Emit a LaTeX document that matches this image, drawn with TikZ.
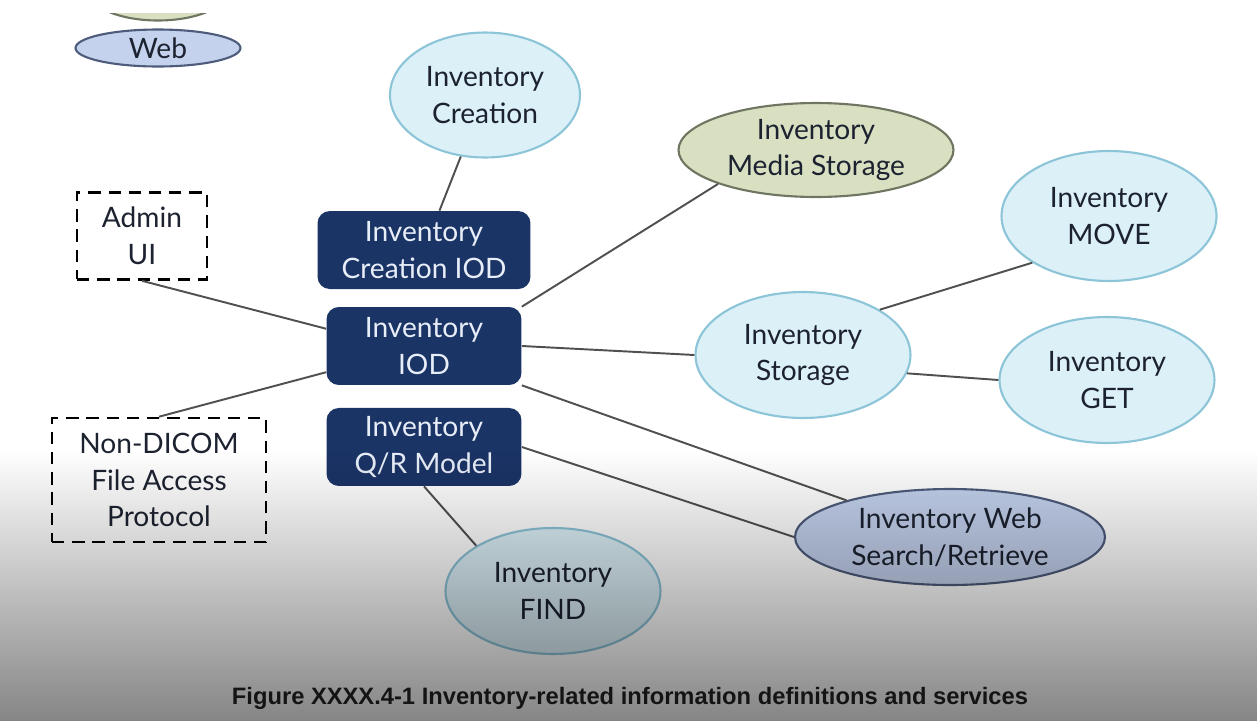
\documentclass[tikz,border=0pt]{standalone}
\usepackage{fontspec}
\setmainfont{Lato}
\newfontfamily\capfont{Liberation Sans}
\usetikzlibrary{shapes.geometric,fadings}

\definecolor{navybox}{HTML}{1B3466}
\definecolor{navytext}{HTML}{E8EEF8}
\definecolor{paleblue}{HTML}{DCF0F8}
\definecolor{paleborder}{HTML}{8CC4D8}
\definecolor{olivefill}{HTML}{D9E0C2}
\definecolor{oliveborder}{HTML}{6E7560}
\definecolor{lavfill}{HTML}{C4D2EE}
\definecolor{lavborder}{HTML}{4E5C7C}
\definecolor{inktext}{HTML}{1C2230}
\definecolor{linegray}{HTML}{505050}

\tikzfading[name=vidfade, top color=transparent!100, middle color=transparent!70, bottom color=transparent!0]

\begin{document}
\begin{tikzpicture}[x=0.02cm, y=-0.02cm,
	every node/.style={font=\fontsize{16}{21}\selectfont, align=center, text=inktext, inner sep=0pt},
	service/.style={ellipse, draw=paleborder, fill=paleblue, line width=1.2pt},
	iodbox/.style={rectangle, rounded corners=7pt, fill=navybox, text=navytext, minimum width=3.9cm, minimum height=1.56cm},
	extbox/.style={rectangle, draw=black, dash pattern=on 7pt off 4.5pt, line width=1.5pt},
	every edge/.style={draw=linegray, line width=1.1pt}]

	\useasboundingbox (0,0) rectangle (1259,721);
	\fill[white] (0,0) rectangle (1259,721);

	% cut off at the top
	\begin{scope}
		\clip (0,13) rectangle (1259,721);
		\node[service, draw=oliveborder, fill=olivefill, minimum width=2.9cm, minimum height=1.3cm] (topcut) at (158,-12) {};
	\end{scope}
	\node[service, draw=lavborder, fill=lavfill, minimum width=3.3cm, minimum height=0.74cm] (web) at (158,48) {Web};

	\node[iodbox]										(iod)			at (424,346)	{Inventory\\IOD};
	\node[iodbox, above of=iod, node distance=1.92cm, minimum width=4.26cm]	(creationiod)	{Inventory\\Creation IOD};
	\node[iodbox, below of=iod, node distance=2.02cm]	(qr)			{Inventory\\Q/R Model};

	\node[extbox, minimum width=2.6cm, minimum height=1.74cm]	(admin)		at (142,236)	{Admin\\UI};
	\node[extbox, minimum width=4.28cm, minimum height=2.48cm]	(nondicom)	at (159,480)	{Non-DICOM\\File Access\\Protocol};

	\node[service, minimum width=3.8cm, minimum height=2.5cm]	(creation)	at (485,95)		{Inventory\\Creation};
	\node[service, draw=oliveborder, fill=olivefill, minimum width=5.5cm, minimum height=1.88cm]	(media)	at (816,150)	{Inventory\\Media Storage};
	\node[service, minimum width=4.3cm, minimum height=2.52cm]	(storage)	at (803,355)	{Inventory\\Storage};
	\node[service, minimum width=4.3cm, minimum height=2.6cm]	(move)		at (1109,216)	{Inventory\\MOVE};
	\node[service, minimum width=4.3cm, minimum height=2.52cm]	(get)		at (1107,380)	{Inventory\\GET};
	\node[service, draw=lavborder, fill=lavfill, minimum width=6.2cm, minimum height=1.92cm]	(websearch)	at (950,537)	{Inventory Web\\Search/Retrieve};
	\node[service, minimum width=4.3cm, minimum height=2.52cm]	(find)		at (553,591)	{Inventory\\FIND};

	\path
	(creation)		edge	(creationiod)
	(admin.south)	edge	(iod.170)
	(nondicom.north)	edge	(iod.195)
	(iod.north east)	edge	(media.south west)
	(iod.east)		edge	(storage.west)
	(iod.south east)	edge	(websearch)
	(qr.east)		edge	(websearch.west)
	(qr.south)		edge	(find.north west)
	(storage.north east)	edge	(move.south west)
	(storage.-10)	edge	(get.west);

	% video shadow
	\fill[black, fill opacity=0.48, path fading=vidfade] (0,450) rectangle (1259,721);

	\node[font=\capfont\bfseries\fontsize{13.5}{16}\selectfont, text=black!92] (caption) at (630,698) {Figure XXXX.4-1 Inventory-related information definitions and services};
\end{tikzpicture}
\end{document}
